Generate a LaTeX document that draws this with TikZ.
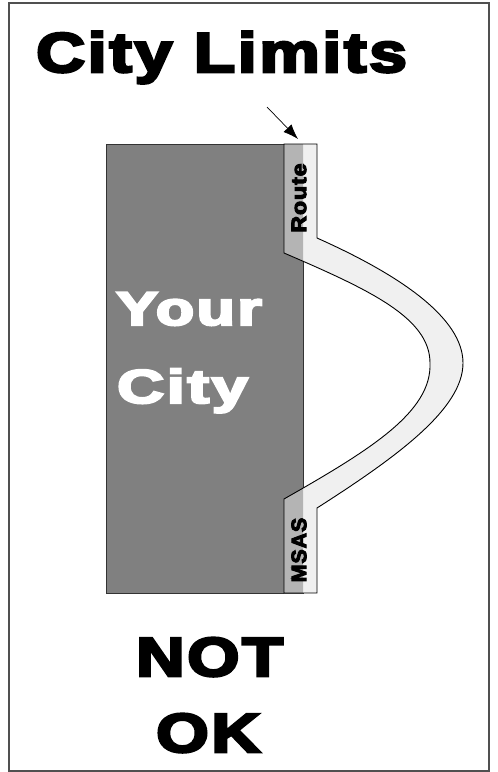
\documentclass[tikz,border=0pt]{standalone}
\usepackage{fontspec}
\usetikzlibrary{arrows.meta}
\newfontfamily\heavyfont{Liberation Sans}[UprightFont={* Bold}, UprightFeatures={FakeBold=4.5}, LetterSpace=4]
\definecolor{citygray}{RGB}{128,128,128}
\definecolor{routegray}{RGB}{180,180,180}
\definecolor{bandgray}{RGB}{240,240,240}
\definecolor{framegray}{RGB}{80,80,80}
\newcommand{\routeband}{(284,144) -- (317,144) -- (317,238)
    .. controls (400,275) and (463,318) .. (463,363)
    .. controls (463,408) and (400,455) .. (317,508)
    -- (317,593) -- (284,593) -- (284,499)
    .. controls (370,450) and (432,412) .. (430,363)
    .. controls (430,318) and (370,290) .. (284,253) -- cycle}
\tikzset{
    bigword/.style={anchor=base west, inner sep=0pt, font=\heavyfont},
    routeword/.style={rotate=90, inner sep=0pt, font=\heavyfont\fontsize{21}{21}\selectfont}
}

\begin{document}
\begin{tikzpicture}[x=1pt, y=-1pt]
    \useasboundingbox (0,0) rectangle (498,772);
    % 外枠
    \draw[framegray, line width=1.5pt] (9,3) rectangle (489,771);
    % 市域
    \fill[citygray, draw=black!80, line width=0.8pt] (106,144) rectangle (303,593);
    % 路線の帯
    \fill[bandgray] \routeband;
    \begin{scope}
        \clip (106,144) rectangle (303,593);
        \fill[routegray] \routeband;
    \end{scope}
    \draw[black, line width=0.9pt] \routeband;

    % 文字
    \node[bigword] (limits) at (36,72) {\fontsize{56}{60}\selectfont\scalebox{1.21}[1]{City Limits}};
    \node[bigword, white] (your) at (116,325) {\fontsize{47.5}{50}\selectfont\scalebox{1.32}[1]{Your}};
    \node[bigword, white] (city) at (117,403) {\fontsize{47.5}{50}\selectfont\scalebox{1.37}[1]{City}};
    \node[bigword] (nottext) at (136,676) {\fontsize{55}{60}\selectfont\scalebox{1.22}[1]{NOT}};
    \node[bigword] (oktext) at (156,752) {\fontsize{55}{60}\selectfont\scalebox{1.23}[1]{OK}};
    \node[routeword] (route) at (299,198) {\scalebox{1.1}[1]{Route}};
    \node[routeword] (msas) at (299,550) {\scalebox{1.02}[1]{MSAS}};

    % 矢印
    \coordinate (limtail) at (267,107);
    \coordinate (limtip) at (298,139);
    \draw[-{Latex[length=15pt, width=11pt]}, line width=0.7pt] (limtail) -- (limtip);
\end{tikzpicture}
\end{document}
